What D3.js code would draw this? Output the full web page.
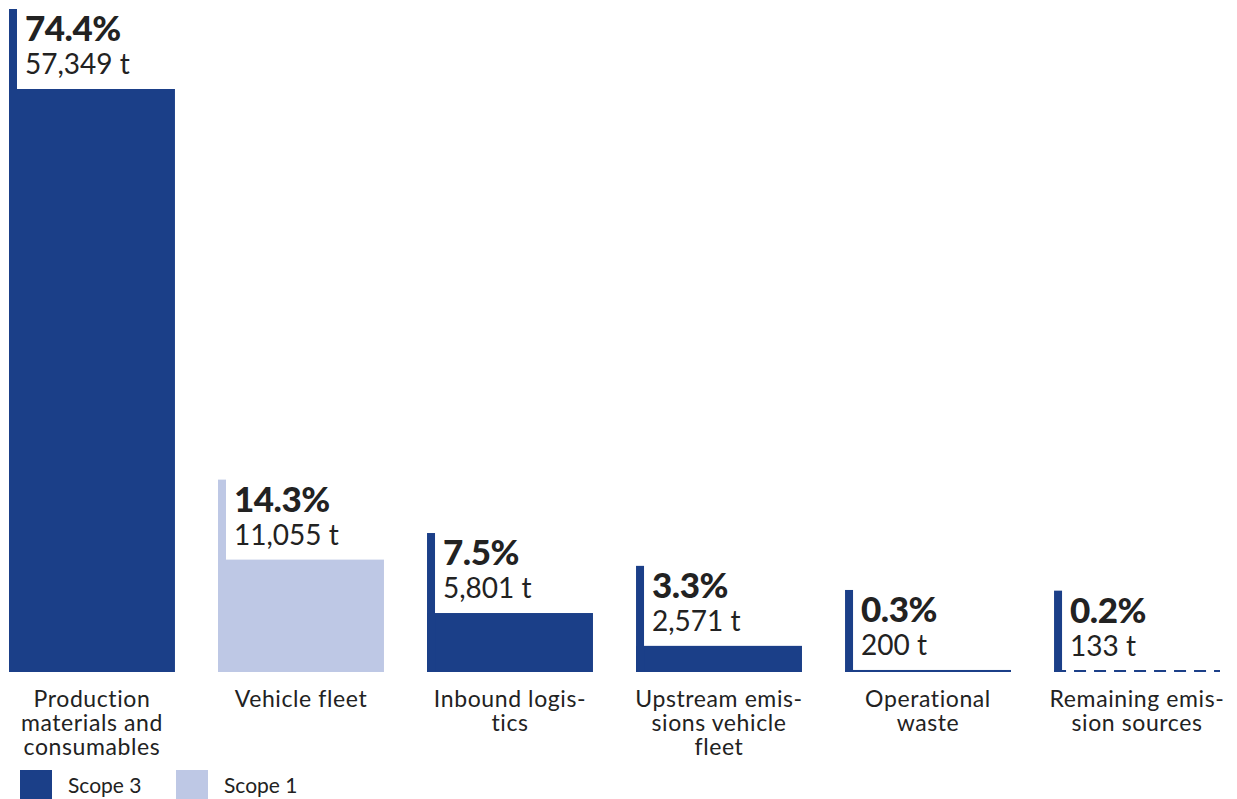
<!DOCTYPE html>
<html>
<head>
<meta charset="utf-8">
<script src="https://cdn.jsdelivr.net/npm/d3@7"></script>
<style>
  body { margin: 0; background: #fff; }
  text { font-family: Lato, "Open Sans", sans-serif; fill: #222; }
</style>
</head>
<body>
<svg id="chart"></svg>
<script>
const categories = ["Production materials and consumables", "Vehicle fleet", "Inbound logistics",
  "Upstream emissions vehicle fleet", "Operational waste", "Remaining emission sources"];
const labelLines = [
  ["Production", "materials and", "consumables"],
  ["Vehicle fleet"],
  ["Inbound logis-", "tics"],
  ["Upstream emis-", "sions vehicle", "fleet"],
  ["Operational", "waste"],
  ["Remaining emis-", "sion sources"]
];
const tonnes = [57349, 11055, 5801, 2571, 200, 133];
const shares = ["74.4%", "14.3%", "7.5%", "3.3%", "0.3%", "0.2%"];
const scopes = ["Scope 3", "Scope 1", "Scope 3", "Scope 3", "Scope 3", "Scope 3"];
const legendItems = ["Scope 3", "Scope 1"];

const data = categories.map((c, i) => ({
  cat: c, lines: labelLines[i], t: tonnes[i], pct: shares[i], scope: scopes[i]
}));

const W = 1237, H = 799;
const baseY = 672;
const color = d3.scaleOrdinal().domain(legendItems).range(["#1b3f88", "#bec8e5"]);

const svg = d3.select("#chart").attr("width", W).attr("height", H);

const x = d3.scaleBand()
  .domain(categories)
  .range([9, 1220])
  .paddingInner(0.206)
  .paddingOuter(0);

const y = d3.scaleLinear()
  .domain([0, 57349])
  .range([baseY, 89]);

const stripW = 8, stripExtra = 80;

const g = svg.selectAll(".bar").data(data).enter().append("g").attr("class", "bar");

// main bar (dashed line for tiny last value)
g.filter(d => d.t >= 150).append("rect")
  .attr("x", d => x(d.cat))
  .attr("width", x.bandwidth())
  .attr("y", d => Math.min(y(d.t), baseY - 2))
  .attr("height", d => Math.max(baseY - y(d.t), 2))
  .attr("fill", d => color(d.scope));

g.filter(d => d.t < 150).append("line")
  .attr("x1", d => x(d.cat))
  .attr("x2", d => x(d.cat) + x.bandwidth())
  .attr("y1", baseY - 1)
  .attr("y2", baseY - 1)
  .attr("stroke", d => color(d.scope))
  .attr("stroke-width", 2)
  .attr("stroke-dasharray", "12,8");

// vertical strip on the left
g.append("rect")
  .attr("x", d => x(d.cat))
  .attr("width", stripW)
  .attr("y", d => y(d.t) - stripExtra)
  .attr("height", d => baseY - y(d.t) + stripExtra)
  .attr("fill", d => color(d.scope));

g.append("text")
  .attr("x", d => x(d.cat) + stripW + 8)
  .attr("y", d => y(d.t) - stripExtra + 32)
  .style("font-size", "35px")
  .style("font-weight", 900)
  .style("letter-spacing", "-0.5px")
  .text(d => d.pct);

g.append("text")
  .attr("x", d => x(d.cat) + stripW + 8)
  .attr("y", d => y(d.t) - stripExtra + 65)
  .style("font-size", "28px")
  .text(d => d.t.toLocaleString("en-US") + " t");

// category labels
const lab = svg.selectAll(".lab").data(data).enter().append("text")
  .attr("class", "lab")
  .attr("text-anchor", "middle")
  .style("font-size", "23px")
  .style("letter-spacing", "0.6px");
lab.selectAll("tspan").data(d => d.lines.map(l => ({ l, cx: x(d.cat) + x.bandwidth() / 2 })))
  .enter().append("tspan")
  .attr("x", d => d.cx)
  .attr("y", (d, i) => 707 + i * 24)
  .text(d => d.l);

// legend
const leg = svg.selectAll(".leg").data(legendItems).enter().append("g")
  .attr("class", "leg")
  .attr("transform", (d, i) => "translate(" + (20 + i * 156) + ",770)");
leg.append("rect").attr("width", 32).attr("height", 30).attr("fill", d => color(d));
leg.append("text").attr("x", 48).attr("y", 23).style("font-size", "21px").text(d => d);
</script>
</body>
</html>
